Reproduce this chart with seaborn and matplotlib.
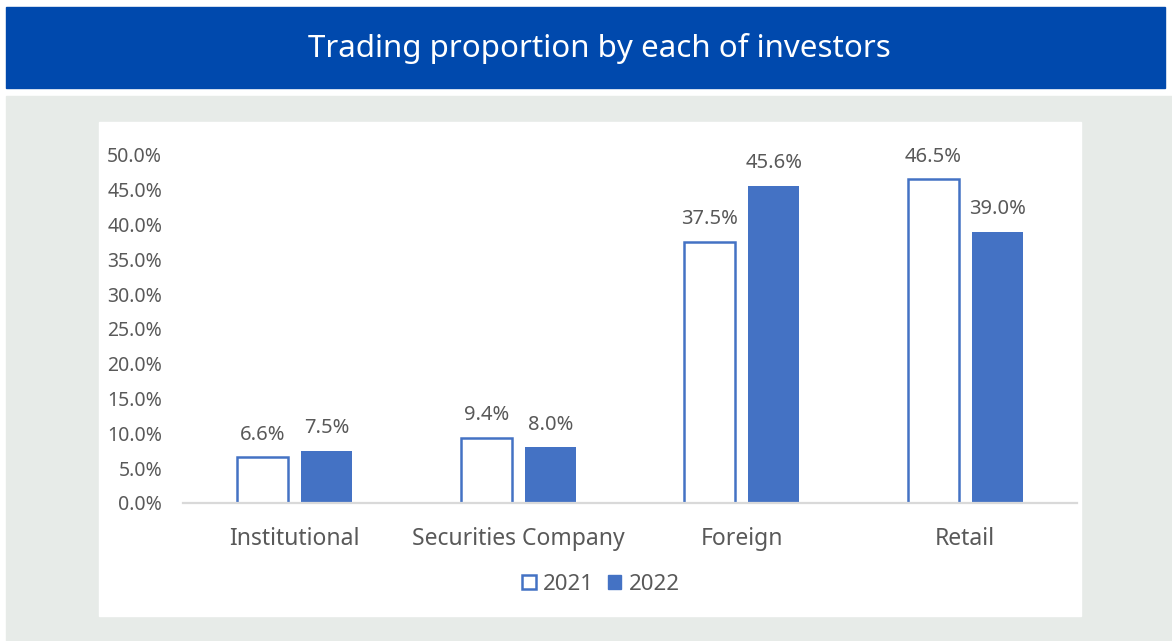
import pandas as pd
import numpy as np
import seaborn as sns
import matplotlib.pyplot as plt
from matplotlib.patches import Rectangle, Patch

categories = ["Institutional", "Securities Company", "Foreign", "Retail"]
years = ["2021", "2022"]
share_2021 = [6.6, 9.4, 37.5, 46.5]
share_2022 = [7.5, 8.0, 45.6, 39.0]
y_ticks = [0, 5, 10, 15, 20, 25, 30, 35, 40, 45, 50]

BLUE = "#4472C4"
GREY_TXT = "#595959"

df = pd.DataFrame({
    "investor": categories * 2,
    "year": [years[0]] * 4 + [years[1]] * 4,
    "share": share_2021 + share_2022,
})

sns.set_theme(style="white")
plt.rcParams["font.family"] = ["Noto Sans", "DejaVu Sans"]

W, H = 1172, 641
fig = plt.figure(figsize=(W / 100, H / 100), dpi=100)

def px_rect(x0, y0, x1, y1, color):
    fig.patches.append(Rectangle((x0 / W, 1 - y1 / H), (x1 - x0) / W, (y1 - y0) / H,
                                 transform=fig.transFigure, color=color, zorder=-2))

# banner, grey backdrop and white panel
px_rect(6, 7, 1165, 88, "#0049AD")
px_rect(6, 96, 1172, 641, "#E7EBE8")
px_rect(99, 122, 1081, 616, "white")
fig.text(599 / W, 1 - 48 / H, "Trading proportion by each of investors",
         color="white", fontsize=22.5, ha="center", va="center")

ax = fig.add_axes([183 / W, 1 - 503 / H, (1077 - 183) / W, (503 - 155) / H])
ax.set_facecolor("none")
ax.set_zorder(2)

sns.barplot(data=df, x="investor", y="share", hue="year", order=categories,
            hue_order=years, width=0.573, gap=0.2, ax=ax, saturation=1,
            palette={"2021": "white", "2022": BLUE}, legend=False,
            edgecolor=BLUE, linewidth=0)

# outline the 2021 bars only
for cont, yr in zip(ax.containers, years):
    for bar in cont:
        if yr == "2021":
            bar.set_edgecolor(BLUE)
            bar.set_linewidth(1.8)
            bar.set_facecolor("white")
        else:
            bar.set_linewidth(0)
    ax.bar_label(cont, labels=[f"{v:.1f}%" for v in cont.datavalues], padding=9,
                 color=GREY_TXT, fontsize=14.5, clip_on=False)

ax.set_xlim(-0.5, 3.5)
ax.set_ylim(0, 50)
ax.set_yticks(y_ticks)
ax.set_yticklabels([f"{t:.1f}%" for t in y_ticks], color=GREY_TXT, fontsize=14)
ax.tick_params(axis="y", length=0, pad=15)
ax.tick_params(axis="x", length=0, pad=17, labelsize=16.5, labelcolor=GREY_TXT)
ax.set_xlabel("")
ax.set_ylabel("")
for side in ["top", "right", "left"]:
    ax.spines[side].set_visible(False)
ax.spines["bottom"].set_color("#D9D9D9")
ax.spines["bottom"].set_linewidth(1.6)

handles = [Patch(facecolor="white", edgecolor=BLUE, linewidth=1.8, label="2021"),
           Patch(facecolor=BLUE, edgecolor=BLUE, label="2022")]
fig.legend(handles=handles, loc="center", bbox_to_anchor=(601 / W, 1 - 584 / H),
           ncol=2, frameon=False, fontsize=16, handlelength=0.6, handleheight=0.6,
           handletextpad=0.35, columnspacing=0.6, labelcolor=GREY_TXT)

fig.savefig("out.png", dpi=100)
